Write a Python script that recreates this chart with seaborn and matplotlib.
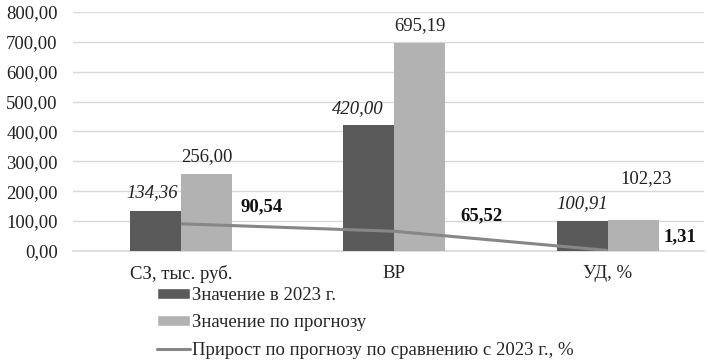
import numpy as np
import pandas as pd
import seaborn as sns
import matplotlib.pyplot as plt
from matplotlib.patches import Patch
from matplotlib.lines import Line2D

categories = ['СЗ, тыс. руб.', 'ВР', 'УД, %']
values_2023 = [134.36, 420.00, 100.91]
values_forecast = [256.00, 695.19, 102.23]
growth = [90.54, 65.52, 1.31]
series_names = ['Значение в 2023 г.', 'Значение по прогнозу',
                'Прирост по прогнозу по сравнению с 2023 г., %']
yticks = [0, 100, 200, 300, 400, 500, 600, 700, 800]


def fmt(v):
    return f'{v:.2f}'.replace('.', ',')


sns.set_theme(style='white')
plt.rcParams['font.family'] = ['Liberation Serif', 'DejaVu Serif']

dark = '#5a5a5a'
light = '#b2b2b2'
line_col = '#878787'
txt = '#222222'
fs = 13.5

df = pd.DataFrame({
    'cat': categories * 2,
    'val': values_2023 + values_forecast,
    'series': [series_names[0]] * 3 + [series_names[1]] * 3,
})

fig = plt.figure(figsize=(7.08, 3.63), dpi=100)
ax = fig.add_axes([0.103, 0.309, 0.891, 0.658])

gw = 0.478
sns.barplot(data=df, x='cat', y='val', hue='series', order=categories,
            hue_order=series_names[:2], palette=[dark, light],
            width=gw, saturation=1, linewidth=0, ax=ax, legend=False, zorder=3)

x = np.arange(len(categories))
ax.plot(x, growth, color=line_col, lw=2.2, zorder=4, solid_capstyle='butt')

ax.set_ylim(0, 800)
ax.set_xlim(-0.506, 2.45)
ax.set_yticks(yticks)
ax.set_yticklabels([fmt(v) for v in yticks])
ax.yaxis.grid(True, color='#d9d9d9', lw=1, zorder=0)
ax.set_axisbelow(True)
for s in ['left', 'right', 'top']:
    ax.spines[s].set_visible(False)
ax.spines['bottom'].set_color('#d9d9d9')
ax.tick_params(axis='y', labelsize=fs, length=0, pad=11, colors=txt)
ax.tick_params(axis='x', labelsize=fs, length=0, pad=10, colors=txt)
ax.set_xlabel('')
ax.set_ylabel('')

bw = gw / 2
# label offsets in points
off_2023 = [(-2, 13), (-8, 12), (0, 12)]
off_fc = [(0, 12.5), (0, 13), (9, 30)]
off_gr = [(21.5, 12), (26, 11.5), (15, 10)]

# 2023 values, italic
for i, v in enumerate(values_2023):
    ax.annotate(fmt(v), (x[i] - bw / 2, v), xytext=off_2023[i],
                textcoords='offset points', ha='center', va='center',
                fontsize=fs, fontstyle='italic', color=txt)
# forecast values
for i, v in enumerate(values_forecast):
    ax.annotate(fmt(v), (x[i] + bw / 2, v), xytext=off_fc[i],
                textcoords='offset points', ha='center', va='center',
                fontsize=fs, color=txt)
# growth, bold
for i, v in enumerate(growth):
    ax.annotate(fmt(v), (x[i] + bw, v), xytext=off_gr[i],
                textcoords='offset points', ha='center', va='center',
                fontsize=fs, fontweight='bold', color='#111111')

handles = [Patch(facecolor=dark), Patch(facecolor=light),
           Line2D([], [], color=line_col, lw=2.2)]
fig.legend(handles, series_names, loc='upper left',
           bbox_to_anchor=(0.222, 0.209), frameon=False, fontsize=fs,
           handlelength=1.76, handleheight=0.55, handletextpad=0.08,
           labelspacing=0.55, borderaxespad=0, borderpad=0)

fig.savefig('out.png', dpi=100)
